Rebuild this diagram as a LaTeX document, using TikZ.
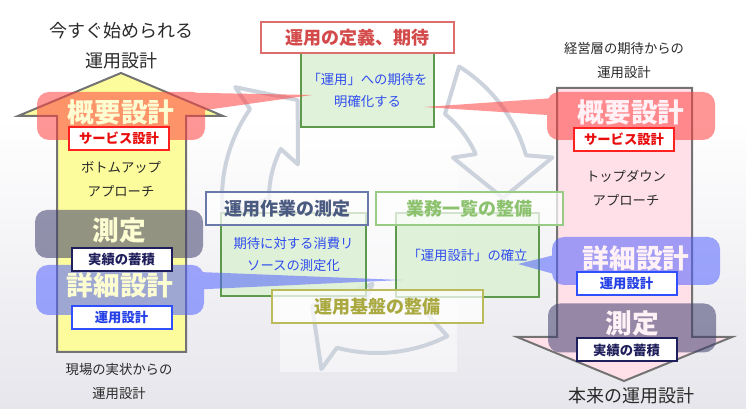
\documentclass[tikz,border=0pt]{standalone}
\usepackage{fontspec}
\setmainfont{Noto Sans CJK JP}
\usetikzlibrary{calc, positioning}
\definecolor{bggray}{HTML}{E6E6EC}
\definecolor{cycgray}{HTML}{CDD3DC}
\definecolor{upyel}{HTML}{FCFC9C}
\definecolor{dnpink}{HTML}{FFE0E9}
\definecolor{arrgray}{HTML}{737373}
\definecolor{calred}{HTML}{FF4040}
\definecolor{calblue}{HTML}{5262FF}
\definecolor{calgray}{HTML}{3E3E6E}
\definecolor{svcred}{HTML}{FF2020}
\definecolor{svctxt}{HTML}{E80E0E}
\definecolor{accnavy}{HTML}{1F1F5C}
\definecolor{opsblue}{HTML}{3050FF}
\definecolor{opstxt}{HTML}{2440E6}
\definecolor{defred}{HTML}{DD6E6E}
\definecolor{deftxt}{HTML}{D44A4A}
\definecolor{meanavy}{HTML}{6A78AA}
\definecolor{meatxt}{HTML}{4B5A80}
\definecolor{lstgreen}{HTML}{98CC84}
\definecolor{lsttxt}{HTML}{8CC26E}
\definecolor{basolive}{HTML}{BBBB5C}
\definecolor{bastxt}{HTML}{A9A940}
\definecolor{gfill}{HTML}{DCF0D4}
\definecolor{gline}{HTML}{5E9A4E}
\definecolor{gtext}{HTML}{2F4DEE}
\definecolor{dktext}{HTML}{2A2A2A}

\begin{document}
\begin{tikzpicture}[
  x=0.75pt, y=-0.75pt,
  bigarrow/.style={draw=arrgray, line width=1.5pt, line join=miter},
  cycarrow/.style={draw=cycgray, line width=3pt, line join=round},
  callout/.style={rounded corners=9pt, minimum width=126pt, minimum height=36pt, inner sep=0pt},
  bigtxt/.style={text=white, inner sep=0pt, font=\fontsize{20}{20}\selectfont\bfseries},
  tagbox/.style={draw, fill=white, line width=1.5pt, minimum width=75pt, minimum height=17.25pt,
    inner sep=0pt, font=\fontsize{10}{10}\selectfont\bfseries},
  titlebox/.style={draw, fill=white, fill opacity=.72, text opacity=1, line width=1.5pt,
    minimum height=24.75pt, inner sep=0pt, font=\fontsize{13.5}{13.5}\selectfont\bfseries},
  greenbox/.style={draw=gline, fill=gfill, fill opacity=.85, text opacity=1, line width=1.5pt,
    text=gtext, align=center, inner sep=0pt, font=\fontsize{10}{16.5}\selectfont},
  note/.style={text=dktext, align=center, inner sep=0pt, font=\fontsize{10}{18}\selectfont},
  bignote/.style={text=dktext, align=center, inner sep=0pt, font=\fontsize{13.5}{22.5}\selectfont},
]

% Background
\fill[white] (0,0) rectangle (746,409);
\shade[top color=white, bottom color=bggray] (0,120) rectangle (746,409);
\useasboundingbox (0,0) rectangle (746,409);

% --- cycle arrows (faint, behind everything) ---
\fill[white, opacity=.5] (280,60) rectangle (457,372);
\foreach \r in {0,121,231} {
  \draw[cycarrow, shift={(377,198)}]
    (\r-58:155) arc[start angle=\r-58, end angle=\r-16, radius=155]
    -- (\r-13:180) -- (\r:126) -- (\r-28:86) -- (\r-24:108)
    arc[start angle=\r-24, end angle=\r-51, radius=108] -- cycle;
}

% --- big arrows: bottom-up (left), top-down (right) ---
\draw[bigarrow, fill=upyel]
  (57,352) -- (57,116) -- (18,116) -- (121,73) -- (223,116) -- (186,116) -- (186,352) -- cycle;
\draw[bigarrow, fill=dnpink]
  (557,88) -- (692,88) -- (692,337) -- (732,337) -- (624,381) -- (517,337) -- (557,337) -- cycle;

% --- center boxes ---
\node[greenbox, minimum width=99.75pt, minimum height=55.5pt] (gdef) at (367.5,90)
  {「運用」への期待を\\明確化する};
\node[titlebox, draw=defred, text=deftxt, minimum width=144.75pt, minimum height=23.25pt]
  (tdef) at (357.5,37.5) {運用の定義、期待};

\node[greenbox, minimum width=108.75pt, minimum height=62.25pt] (gmeas) at (293.5,254.5)
  {期待に対する消費リ\\ソースの測定化};
\node[greenbox, minimum width=107.25pt, minimum height=63pt] (glist) at (467.5,255)
  {「運用設計」の確立};
\node[titlebox, draw=meanavy, text=meatxt, minimum width=121.5pt] (tmeas) at (287,208.5)
  {運用作業の測定};
\node[titlebox, draw=lstgreen, text=lsttxt, minimum width=140.25pt] (tlist) at (469.5,208.5)
  {業務一覧の整備};
\node[titlebox, draw=basolive, text=bastxt, minimum width=158.25pt] (tbase) at (377.5,306.5)
  {運用基盤の整備};

% --- callouts (each one translucent as a whole) ---
\begin{scope}[transparency group, opacity=.55]
  \node[callout, fill=calred] (lgai) at (121,116) {};
  \fill[calred] ($(lgai.north east)+(-12,1)$) -- ($(gdef.west)+(12,5)$)
    -- ($(lgai.north east)+(-12,20)$) -- cycle;
  \node[bigtxt] (lgaitxt) at ($(lgai)+(0,-4)$) {概要設計};
\end{scope}
\begin{scope}[transparency group, opacity=.55]
  \node[callout, fill=calred] (rgai) at (631,116) {};
  \fill[calred] ($(rgai.north west)+(12,6)$) -- ($(gdef.east)+(-11,17)$)
    -- ($(rgai.north west)+(12,24)$) -- cycle;
  \node[bigtxt] (rgaitxt) at ($(rgai)+(0,-4)$) {概要設計};
\end{scope}
\begin{scope}[transparency group, opacity=.55]
  \node[callout, fill=calgray] (lsoku) at (119,234) {};
  \node[bigtxt] (lsokutxt) at ($(lsoku)+(0,-4)$) {測定};
\end{scope}
\begin{scope}[transparency group, opacity=.55]
  \node[callout, fill=calblue, minimum height=37.5pt] (lshou) at (120,290) {};
  \fill[calblue] ($(lshou.north east)+(-12,7)$) -- ($(glist.west)+(7,25)$)
    -- ($(lshou.north east)+(-12,25)$) -- cycle;
  \node[bigtxt] (lshoutxt) at ($(lshou)+(0,-5)$) {詳細設計};
\end{scope}
\begin{scope}[transparency group, opacity=.55]
  \node[callout, fill=calblue] (rshou) at (636,261) {};
  \fill[calblue] ($(rshou.north west)+(12,16)$) -- ($(glist.east)+(-22,9)$)
    -- ($(rshou.north west)+(12,40)$) -- cycle;
  \node[bigtxt] (rshoutxt) at ($(rshou)+(0,-3)$) {詳細設計};
\end{scope}
\begin{scope}[transparency group, opacity=.55]
  \node[callout, fill=calgray, minimum height=36.75pt] (rsoku) at (632,328) {};
  \node[bigtxt] (rsokutxt) at ($(rsoku)+(0,-5)$) {測定};
\end{scope}

% --- tags ---
\node[tagbox, draw=svcred, text=svctxt] (lsvc) at (119,138.5) {サービス設計};
\node[tagbox, draw=accnavy, text=accnavy] (lacc) at (121.5,259.5) {実績の蓄積};
\node[tagbox, draw=opsblue, text=opstxt] (lops) at (121.5,317.5) {運用設計};
\node[tagbox, draw=svcred, text=svctxt] (rsvc) at (624,139.5) {サービス設計};
\node[tagbox, draw=opsblue, text=opstxt] (rops) at (626.5,283.5) {運用設計};
\node[tagbox, draw=accnavy, text=accnavy] (racc) at (626.5,350) {実績の蓄積};

% --- notes ---
\node[bignote] (ltop) at (121,46) {今すぐ始められる\\運用設計};
\node[note] (lbu) at (121,179) {ボトムアップ\\アプローチ};
\node[note] (lbot) at (119,381) {現場の実状からの\\運用設計};
\node[note] (rtop) at (624,60.5) {経営層の期待からの\\運用設計};
\node[note] (rtd) at (626,188.5) {トップダウン\\アプローチ};
\node[bignote] (rbot) at (631,396) {本来の運用設計};

\end{tikzpicture}
\end{document}
